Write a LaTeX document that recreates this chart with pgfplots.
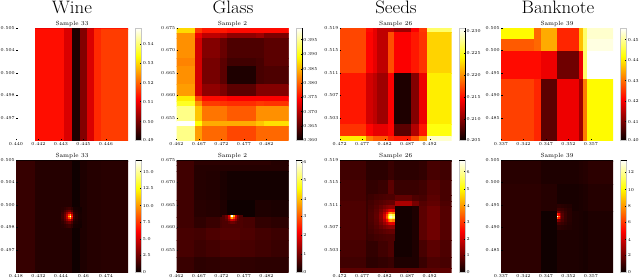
\documentclass[border=0pt]{standalone}
\usepackage{pgfplots}
\pgfplotsset{compat=1.18}
\tikzset{headt/.style={font=\fontsize{18}{18}\selectfont,anchor=base,inner sep=0pt,xscale=1.05,transform shape}}
\pgfplotsset{
 colormap={myhot}{rgb(0pt)=(0.04,0,0) rgb(365pt)=(1,0,0) rgb(746pt)=(1,1,0) rgb(1000pt)=(1,1,1)},
 hm/.style={scale only axis,width=112pt,height=112pt,xmin=0,xmax=112,ymin=0,ymax=112,y dir=reverse,
  enlargelimits=false,axis on top,axis line style={draw=none},
  xtick={0,22.5,45,67.5,90},ytick={0,22.5,45,67.5,90},
  tickpos=left,
  major tick length=1.5pt,tick style={black,line width=.3pt},
  tick label style={font=\fontsize{4.5}{5}\selectfont,inner sep=1pt},
  xticklabel style={yshift=-1.5pt},
  title style={font=\fontsize{6}{6}\selectfont,inner sep=0pt,yshift=-5pt},
  colormap name=myhot,point meta min=0,point meta max=1,
  colorbar,
  colorbar style={width=6pt,scale only axis,axis line style={draw=gray!45,line width=.3pt},
   xtick=\empty,tickpos=right,yticklabel pos=right,major tick length=1.5pt,
   tick style={black,line width=.3pt},
   tick label style={font=\fontsize{4.5}{5}\selectfont,inner sep=1pt}},
  colorbar shift/.style={xshift=7.6pt}},
 cell/.style={surf,shader=flat corner,mesh/cols=#1,point meta=\thisrow{c}}
}
\begin{document}
\begin{tikzpicture}[x=1pt,y=1pt]
\useasboundingbox (0,0) rectangle (640,279);
\node[headt] at (72,265.8) {Wine};
\node[headt] at (233,265.8) {Glass};
\node[headt] at (396,265.8) {Seeds};
\node[headt] at (558,265.8) {Banknote};
% ---- top row
\begin{axis}[hm,at={(16pt,139pt)},anchor=south west,title={Sample 33},
 xticklabels={0.440,0.442,0.443,0.445,0.446},yticklabels={0.505,0.504,0.500,0.498,0.497},
 colorbar style={ytick={0,.164,.343,.507,.687,.857},yticklabels={0.49,0.50,0.51,0.52,0.53,0.54}}]
\addplot[cell=9] table[row sep=\\] {x y c\\
0 0 1\\ 19 0 .34\\ 48 0 .28\\ 55.7 0 .03\\ 64 0 .15\\ 71 0 .28\\ 78.3 0 .38\\ 85 0 .40\\ 112 0 .40\\
0 1 1\\ 19 1 .385\\ 48 1 .31\\ 55.7 1 .03\\ 64 1 .18\\ 71 1 .31\\ 78.3 1 .425\\ 85 1 .455\\ 112 1 .455\\
0 112 1\\ 19 112 .385\\ 48 112 .31\\ 55.7 112 .03\\ 64 112 .18\\ 71 112 .31\\ 78.3 112 .425\\ 85 112 .455\\ 112 112 .455\\
};
\end{axis}
\begin{axis}[hm,at={(176.5pt,139pt)},anchor=south west,title={Sample 2},
 xticklabels={0.462,0.467,0.472,0.477,0.482},yticklabels={0.675,0.670,0.665,0.660,0.655},
 colorbar style={ytick={0,.125,.254,.382,.507,.636,.767,.896},yticklabels={0.360,0.365,0.370,0.375,0.380,0.385,0.390,0.395}}]
\addplot[cell=8] table[row sep=\\] {x y c\\
0 0 .69\\ 18.3 0 .45\\ 25.7 0 .40\\ 43.3 0 .40\\ 50.7 0 .38\\ 80 0 .38\\ 87.3 0 .38\\ 112 0 .38\\
0 5 .58\\ 18.3 5 .34\\ 25.7 5 .27\\ 43.3 5 .25\\ 50.7 5 .20\\ 80 5 .22\\ 87.3 5 .17\\ 112 5 .17\\
0 10 .58\\ 18.3 10 .30\\ 25.7 10 .18\\ 43.3 10 .14\\ 50.7 10 .10\\ 80 10 .10\\ 87.3 10 .12\\ 112 10 .12\\
0 30 .56\\ 18.3 30 .30\\ 25.7 30 .16\\ 43.3 30 .12\\ 50.7 30 .08\\ 80 30 .09\\ 87.3 30 .12\\ 112 30 .12\\
0 38.3 .58\\ 18.3 38.3 .30\\ 25.7 38.3 .16\\ 43.3 38.3 .12\\ 50.7 38.3 .03\\ 80 38.3 .09\\ 87.3 38.3 .10\\ 112 38.3 .10\\
0 55.7 .60\\ 18.3 55.7 .30\\ 25.7 55.7 .20\\ 43.3 55.7 .17\\ 50.7 55.7 .12\\ 80 55.7 .18\\ 87.3 55.7 .18\\ 112 55.7 .18\\
0 68.3 .72\\ 18.3 68.3 .47\\ 25.7 68.3 .38\\ 43.3 68.3 .38\\ 50.7 68.3 .36\\ 80 68.3 .36\\ 87.3 68.3 .36\\ 112 68.3 .36\\
0 72.7 .78\\ 18.3 72.7 .58\\ 25.7 72.7 .45\\ 43.3 72.7 .44\\ 50.7 72.7 .43\\ 80 72.7 .45\\ 87.3 72.7 .44\\ 112 72.7 .44\\
0 77.7 .88\\ 18.3 77.7 .66\\ 25.7 77.7 .54\\ 43.3 77.7 .54\\ 50.7 77.7 .50\\ 80 77.7 .58\\ 87.3 77.7 .58\\ 112 77.7 .58\\
0 93.3 1\\ 18.3 93.3 .75\\ 25.7 93.3 .62\\ 43.3 93.3 .62\\ 50.7 93.3 .62\\ 80 93.3 .66\\ 87.3 93.3 .70\\ 112 93.3 .70\\
0 97.7 .88\\ 18.3 97.7 .60\\ 25.7 97.7 .52\\ 43.3 97.7 .52\\ 50.7 97.7 .47\\ 80 97.7 .52\\ 87.3 97.7 .52\\ 112 97.7 .52\\
0 112 .88\\ 18.3 112 .60\\ 25.7 112 .52\\ 43.3 112 .52\\ 50.7 112 .47\\ 80 112 .52\\ 87.3 112 .52\\ 112 112 .52\\
};
\end{axis}
\begin{axis}[hm,at={(339.7pt,139pt)},anchor=south west,title={Sample 26},
 xticklabels={0.472,0.477,0.482,0.487,0.492},yticklabels={0.519,0.515,0.511,0.507,0.503},
 colorbar style={ytick={0,.185,.382,.576,.776,.97},yticklabels={0.205,0.210,0.215,0.220,0.225,0.230}}]
\addplot[cell=10] table[row sep=\\] {x y c\\
0 0 .47\\ 26.3 0 .38\\ 33.7 0 .33\\ 37.7 0 .27\\ 48.3 0 .27\\ 54 0 .22\\ 71.7 0 .36\\ 79.3 0 .45\\ 87 0 .85\\ 112 0 .85\\
0 4.3 .47\\ 26.3 4.3 .37\\ 33.7 4.3 .33\\ 37.7 4.3 .27\\ 48.3 4.3 .48\\ 54 4.3 .36\\ 71.7 4.3 .40\\ 79.3 4.3 .44\\ 87 4.3 .68\\ 112 4.3 .68\\
0 45 .40\\ 26.3 45 .30\\ 33.7 45 .27\\ 37.7 45 .22\\ 48.3 45 .36\\ 54 45 .03\\ 71.7 45 .18\\ 79.3 45 .34\\ 87 45 .72\\ 112 45 .72\\
0 95.7 .44\\ 26.3 95.7 .37\\ 33.7 95.7 .33\\ 37.7 95.7 .33\\ 48.3 95.7 .37\\ 54 95.7 .12\\ 71.7 95.7 .25\\ 79.3 95.7 .40\\ 87 95.7 .76\\ 112 95.7 .76\\
0 107.7 .72\\ 26.3 107.7 .55\\ 33.7 107.7 .50\\ 37.7 107.7 .50\\ 48.3 107.7 .42\\ 54 107.7 .40\\ 71.7 107.7 .48\\ 79.3 107.7 .60\\ 87 107.7 .95\\ 112 107.7 .95\\
0 112 .72\\ 26.3 112 .55\\ 33.7 112 .50\\ 37.7 112 .50\\ 48.3 112 .42\\ 54 112 .40\\ 71.7 112 .48\\ 79.3 112 .60\\ 87 112 .95\\ 112 112 .95\\
};
\end{axis}
\begin{axis}[hm,at={(501pt,139pt)},anchor=south west,title={Sample 39},
 xticklabels={0.337,0.342,0.347,0.352,0.357},yticklabels={0.505,0.500,0.495,0.490,0.485},
 colorbar style={ytick={0,.164,.349,.531,.71,.896},yticklabels={0.40,0.41,0.42,0.43,0.44,0.45}}]
\addplot[cell=8] table[row sep=\\] {x y c\\
0 0 .74\\ 33.3 0 .52\\ 39.7 0 .62\\ 56 0 .42\\ 77.7 0 .65\\ 81.7 0 .85\\ 86.3 0 .95\\ 112 0 .95\\
0 11 .50\\ 33.3 11 .52\\ 39.7 11 .62\\ 56 11 .42\\ 77.7 11 .65\\ 81.7 11 .85\\ 86.3 11 .97\\ 112 11 .97\\
0 23.3 .38\\ 33.3 23.3 .38\\ 39.7 23.3 .34\\ 56 23.3 .15\\ 77.7 23.3 .34\\ 81.7 23.3 .85\\ 86.3 23.3 1\\ 112 23.3 1\\
0 51 .46\\ 33.3 51 .42\\ 39.7 51 .12\\ 56 51 .34\\ 77.7 51 .22\\ 81.7 51 .55\\ 86.3 51 .74\\ 112 51 .74\\
0 112 .46\\ 33.3 112 .42\\ 39.7 112 .12\\ 56 112 .34\\ 77.7 112 .22\\ 81.7 112 .55\\ 86.3 112 .74\\ 112 112 .74\\
};
\end{axis}
% ---- bottom row
\begin{axis}[hm,at={(16pt,7pt)},anchor=south west,title={Sample 33},
 xticklabels={0.418,0.432,0.444,0.46,0.474},yticklabels={0.505,0.504,0.500,0.498,0.497},
 colorbar style={ytick={0,.148,.297,.445,.593,.748,.896},yticklabels={0,2.5,5.0,7.5,10.0,12.5,15.0}}]
\addplot[cell=7] table[row sep=\\] {x y c\\
0 0 .005\\ 19 0 .005\\ 56 0 .005\\ 64 0 .005\\ 71 0 .005\\ 85 0 .005\\ 112 0 .005\\
0 1.5 .065\\ 19 1.5 .04\\ 56 1.5 .008\\ 64 1.5 .03\\ 71 1.5 .04\\ 85 1.5 .045\\ 112 1.5 .045\\
0 112 .065\\ 19 112 .04\\ 56 112 .008\\ 64 112 .03\\ 71 112 .04\\ 85 112 .045\\ 112 112 .045\\
};
\addplot[cell=10] table[row sep=\\] {x y c\\
45 46.8 .045\\ 48 46.8 .055\\ 50.5 46.8 .07\\ 52.5 46.8 .08\\ 54.4 46.8 .08\\ 55.6 46.8 .056\\ 57.5 46.8 .021\\ 59.5 46.8 .017\\ 62 46.8 .014\\ 65 46.8 .014\\
45 49.8 .055\\ 48 49.8 .085\\ 50.5 49.8 .12\\ 52.5 49.8 .145\\ 54.4 49.8 .15\\ 55.6 49.8 .10\\ 57.5 49.8 .036\\ 59.5 49.8 .026\\ 62 49.8 .017\\ 65 49.8 .017\\
45 52.3 .07\\ 48 52.3 .12\\ 50.5 52.3 .20\\ 52.5 52.3 .27\\ 54.4 52.3 .30\\ 55.6 52.3 .19\\ 57.5 52.3 .06\\ 59.5 52.3 .036\\ 62 52.3 .021\\ 65 52.3 .021\\
45 54.3 .08\\ 48 54.3 .145\\ 50.5 54.3 .27\\ 52.5 54.3 .45\\ 54.4 54.3 .62\\ 55.6 54.3 .32\\ 57.5 54.3 .08\\ 59.5 54.3 .044\\ 62 54.3 .024\\ 65 54.3 .024\\
45 56.2 .08\\ 48 56.2 .15\\ 50.5 56.2 .30\\ 52.5 56.2 .62\\ 54.4 56.2 1\\ 55.6 56.2 .43\\ 57.5 56.2 .09\\ 59.5 56.2 .045\\ 62 56.2 .024\\ 65 56.2 .024\\
45 57.4 .08\\ 48 57.4 .145\\ 50.5 57.4 .27\\ 52.5 57.4 .45\\ 54.4 57.4 .62\\ 55.6 57.4 .32\\ 57.5 57.4 .08\\ 59.5 57.4 .044\\ 62 57.4 .024\\ 65 57.4 .024\\
45 59.3 .07\\ 48 59.3 .12\\ 50.5 59.3 .20\\ 52.5 59.3 .27\\ 54.4 59.3 .30\\ 55.6 59.3 .19\\ 57.5 59.3 .06\\ 59.5 59.3 .036\\ 62 59.3 .021\\ 65 59.3 .021\\
45 61.3 .055\\ 48 61.3 .085\\ 50.5 61.3 .12\\ 52.5 61.3 .145\\ 54.4 61.3 .15\\ 55.6 61.3 .10\\ 57.5 61.3 .036\\ 59.5 61.3 .026\\ 62 61.3 .017\\ 65 61.3 .017\\
45 63.8 .045\\ 48 63.8 .055\\ 50.5 63.8 .07\\ 52.5 63.8 .08\\ 54.4 63.8 .08\\ 55.6 63.8 .056\\ 57.5 63.8 .021\\ 59.5 63.8 .017\\ 62 63.8 .014\\ 65 63.8 .014\\
45 66.8 .045\\ 48 66.8 .055\\ 50.5 66.8 .07\\ 52.5 66.8 .08\\ 54.4 66.8 .08\\ 55.6 66.8 .056\\ 57.5 66.8 .021\\ 59.5 66.8 .017\\ 62 66.8 .014\\ 65 66.8 .014\\
};
\end{axis}
\begin{axis}[hm,at={(176.5pt,7pt)},anchor=south west,title={Sample 2},
 xticklabels={0.462,0.467,0.472,0.477,0.482},yticklabels={0.675,0.670,0.665,0.660,0.655},
 colorbar style={ytick={0,.163,.326,.496,.653,.825,.985},yticklabels={0,1,2,3,4,5,6}}]
\addplot[cell=9] table[row sep=\\] {x y c\\
0 0 .01\\ 18 0 .01\\ 30 0 .01\\ 44 0 .01\\ 51 0 .01\\ 64 0 .01\\ 79 0 .01\\ 95 0 .01\\ 112 0 .01\\
0 1 .08\\ 18 1 .05\\ 30 1 .05\\ 44 1 .05\\ 51 1 .05\\ 64 1 .05\\ 79 1 .05\\ 95 1 .04\\ 112 1 .04\\
0 5 .08\\ 18 5 .04\\ 30 5 .04\\ 44 5 .04\\ 51 5 .04\\ 64 5 .04\\ 79 5 .04\\ 95 5 .04\\ 112 5 .04\\
0 11 .08\\ 18 11 .04\\ 30 11 .035\\ 44 11 .025\\ 51 11 .015\\ 64 11 .015\\ 79 11 .015\\ 95 11 .015\\ 112 11 .015\\
0 40 .08\\ 18 40 .045\\ 30 40 .04\\ 44 40 .03\\ 51 40 .005\\ 64 40 .005\\ 79 40 .03\\ 95 40 .025\\ 112 40 .025\\
0 57 .08\\ 18 57 .055\\ 30 57 .07\\ 44 57 .09\\ 51 57 .10\\ 64 57 .09\\ 79 57 .06\\ 95 57 .05\\ 112 57 .05\\
0 68 .09\\ 18 68 .085\\ 30 68 .10\\ 44 68 .11\\ 51 68 .11\\ 64 68 .10\\ 79 68 .085\\ 95 68 .075\\ 112 68 .075\\
0 80 .09\\ 18 80 .075\\ 30 80 .085\\ 44 80 .095\\ 51 80 .095\\ 64 80 .09\\ 79 80 .08\\ 95 80 .07\\ 112 80 .07\\
0 97 .07\\ 18 97 .05\\ 30 97 .055\\ 44 97 .06\\ 51 97 .06\\ 64 97 .055\\ 79 97 .05\\ 95 97 .05\\ 112 97 .05\\
0 112 .07\\ 18 112 .05\\ 30 112 .055\\ 44 112 .06\\ 51 112 .06\\ 64 112 .055\\ 79 112 .05\\ 95 112 .05\\ 112 112 .05\\
};
\addplot[cell=10] table[row sep=\\] {x y c\\
45.7 55.5 .10\\ 48.7 55.5 .15\\ 51.2 55.5 .30\\ 53.2 55.5 .62\\ 55 55.5 1\\ 56.4 55.5 .62\\ 58.2 55.5 .30\\ 60.2 55.5 .15\\ 62.7 55.5 .10\\ 65.7 55.5 .10\\
45.7 57.2 .10\\ 48.7 57.2 .145\\ 51.2 57.2 .27\\ 53.2 57.2 .45\\ 55 57.2 .62\\ 56.4 57.2 .45\\ 58.2 57.2 .27\\ 60.2 57.2 .145\\ 62.7 57.2 .10\\ 65.7 57.2 .10\\
45.7 59.2 .10\\ 48.7 59.2 .12\\ 51.2 59.2 .20\\ 53.2 59.2 .27\\ 55 59.2 .30\\ 56.4 59.2 .27\\ 58.2 59.2 .20\\ 60.2 59.2 .12\\ 62.7 59.2 .10\\ 65.7 59.2 .10\\
45.7 61.2 .10\\ 48.7 61.2 .10\\ 51.2 61.2 .12\\ 53.2 61.2 .145\\ 55 61.2 .15\\ 56.4 61.2 .145\\ 58.2 61.2 .12\\ 60.2 61.2 .10\\ 62.7 61.2 .10\\ 65.7 61.2 .10\\
45.7 64 .10\\ 48.7 64 .10\\ 51.2 64 .10\\ 53.2 64 .10\\ 55 64 .10\\ 56.4 64 .10\\ 58.2 64 .10\\ 60.2 64 .10\\ 62.7 64 .10\\ 65.7 64 .10\\
45.7 67 .10\\ 48.7 67 .10\\ 51.2 67 .10\\ 53.2 67 .10\\ 55 67 .10\\ 56.4 67 .10\\ 58.2 67 .10\\ 60.2 67 .10\\ 62.7 67 .10\\ 65.7 67 .10\\
};
\end{axis}
\begin{axis}[hm,at={(339.7pt,7pt)},anchor=south west,title={Sample 26},
 xticklabels={0.472,0.477,0.482,0.487,0.492},yticklabels={0.519,0.515,0.511,0.507,0.503},
 colorbar style={ytick={0,.148,.297,.445,.593,.742,.896},yticklabels={0,1,2,3,4,5,6}}]
\addplot[cell=10] table[row sep=\\] {x y c\\
0 0 .01\\ 26 0 .01\\ 38 0 .01\\ 48 0 .01\\ 54 0 .01\\ 72 0 .01\\ 79 0 .01\\ 87 0 .01\\ 100 0 .01\\ 112 0 .01\\
0 1 .08\\ 26 1 .05\\ 38 1 .05\\ 48 1 .07\\ 54 1 .05\\ 72 1 .05\\ 79 1 .06\\ 87 1 .09\\ 100 1 .08\\ 112 1 .08\\
0 20 .09\\ 26 20 .06\\ 38 20 .07\\ 48 20 .12\\ 54 20 .07\\ 72 20 .07\\ 79 20 .08\\ 87 20 .11\\ 100 20 .09\\ 112 20 .09\\
0 35 .09\\ 26 35 .065\\ 38 35 .09\\ 48 35 .17\\ 54 35 .13\\ 72 35 .10\\ 79 35 .09\\ 87 35 .12\\ 100 35 .09\\ 112 35 .09\\
0 41 .10\\ 26 41 .07\\ 38 41 .11\\ 48 41 .22\\ 54 41 .24\\ 72 41 .16\\ 79 41 .11\\ 87 41 .13\\ 100 41 .10\\ 112 41 .10\\
0 46 .10\\ 26 46 .07\\ 38 46 .10\\ 48 46 .12\\ 54 46 .015\\ 72 46 .03\\ 79 46 .12\\ 87 46 .15\\ 100 46 .11\\ 112 46 .11\\
0 80 .09\\ 26 80 .06\\ 38 80 .08\\ 48 80 .10\\ 54 80 .015\\ 72 80 .03\\ 79 80 .09\\ 87 80 .12\\ 100 80 .10\\ 112 80 .10\\
0 97 .08\\ 26 97 .05\\ 38 97 .06\\ 48 97 .07\\ 54 97 .03\\ 72 97 .03\\ 79 97 .07\\ 87 97 .10\\ 100 97 .09\\ 112 97 .09\\
0 108 .12\\ 26 108 .12\\ 38 108 .12\\ 48 108 .12\\ 54 108 .12\\ 72 108 .12\\ 79 108 .12\\ 87 108 .12\\ 100 108 .12\\ 112 108 .12\\
0 112 .12\\ 26 112 .12\\ 38 112 .12\\ 48 112 .12\\ 54 112 .12\\ 72 112 .12\\ 79 112 .12\\ 87 112 .12\\ 100 112 .12\\ 112 112 .12\\
};
\addplot[cell=10] table[row sep=\\] {x y c\\
28 34 .075\\ 34 34 .085\\ 39 34 .09\\ 43 34 .095\\ 46 34 .10\\ 48 34 .10\\ 49.5 34 .10\\ 50.8 34 .10\\ 52.2 34 .10\\ 54 34 .10\\
28 40 .085\\ 34 40 .10\\ 39 40 .11\\ 43 40 .12\\ 46 40 .13\\ 48 40 .13\\ 49.5 40 .135\\ 50.8 40 .135\\ 52.2 40 .135\\ 54 40 .135\\
28 45 .09\\ 34 45 .11\\ 39 45 .135\\ 43 45 .16\\ 46 45 .18\\ 48 45 .19\\ 49.5 45 .195\\ 50.8 45 .20\\ 52.2 45 .195\\ 54 45 .195\\
28 49 .095\\ 34 49 .12\\ 39 49 .16\\ 43 49 .21\\ 46 49 .255\\ 48 49 .30\\ 49.5 49 .32\\ 50.8 49 .33\\ 52.2 49 .32\\ 54 49 .32\\
28 52 .10\\ 34 52 .125\\ 39 52 .18\\ 43 52 .255\\ 46 52 .37\\ 48 52 .49\\ 49.5 52 .56\\ 50.8 52 .60\\ 52.2 52 .55\\ 54 52 .55\\
28 54.5 .10\\ 34 54.5 .13\\ 39 54.5 .19\\ 43 54.5 .29\\ 46 54.5 .47\\ 48 54.5 .68\\ 49.5 54.5 .82\\ 50.8 54.5 .87\\ 52.2 54.5 .80\\ 54 54.5 .80\\
28 56.2 .10\\ 34 56.2 .13\\ 39 56.2 .19\\ 43 56.2 .30\\ 46 56.2 .50\\ 48 56.2 .74\\ 49.5 56.2 .90\\ 50.8 56.2 .96\\ 52.2 56.2 .87\\ 54 56.2 .87\\
28 57.8 .10\\ 34 57.8 .13\\ 39 57.8 .19\\ 43 57.8 .29\\ 46 57.8 .47\\ 48 57.8 .68\\ 49.5 57.8 .82\\ 50.8 57.8 .87\\ 52.2 57.8 .80\\ 54 57.8 .80\\
28 59.5 .10\\ 34 59.5 .125\\ 39 59.5 .18\\ 43 59.5 .255\\ 46 59.5 .37\\ 48 59.5 .49\\ 49.5 59.5 .56\\ 50.8 59.5 .60\\ 52.2 59.5 .55\\ 54 59.5 .55\\
28 62 .095\\ 34 62 .12\\ 39 62 .16\\ 43 62 .21\\ 46 62 .255\\ 48 62 .30\\ 49.5 62 .32\\ 50.8 62 .33\\ 52.2 62 .32\\ 54 62 .32\\
28 65 .09\\ 34 65 .11\\ 39 65 .135\\ 43 65 .16\\ 46 65 .18\\ 48 65 .19\\ 49.5 65 .195\\ 50.8 65 .20\\ 52.2 65 .195\\ 54 65 .195\\
28 69 .085\\ 34 69 .10\\ 39 69 .11\\ 43 69 .12\\ 46 69 .13\\ 48 69 .13\\ 49.5 69 .135\\ 50.8 69 .135\\ 52.2 69 .135\\ 54 69 .135\\
28 74 .075\\ 34 74 .085\\ 39 74 .09\\ 43 74 .095\\ 46 74 .10\\ 48 74 .10\\ 49.5 74 .10\\ 50.8 74 .10\\ 52.2 74 .10\\ 54 74 .10\\
28 80 .075\\ 34 80 .085\\ 39 80 .09\\ 43 80 .095\\ 46 80 .10\\ 48 80 .10\\ 49.5 80 .10\\ 50.8 80 .10\\ 52.2 80 .10\\ 54 80 .10\\
};
\end{axis}
\begin{axis}[hm,at={(501pt,7pt)},anchor=south west,title={Sample 39},
 xticklabels={0.337,0.342,0.347,0.352,0.357},yticklabels={0.505,0.500,0.495,0.490,0.485},
 colorbar style={ytick={0,.148,.29,.445,.588,.736,.89},yticklabels={0,2,4,6,8,10,12}}]
\addplot[cell=7] table[row sep=\\] {x y c\\
0 0 .005\\ 40 0 .005\\ 56 0 .005\\ 78 0 .005\\ 82 0 .005\\ 87 0 .005\\ 112 0 .005\\
0 1 .045\\ 40 1 .03\\ 56 1 .03\\ 78 1 .035\\ 82 1 .04\\ 87 1 .05\\ 112 1 .05\\
0 24 .05\\ 40 24 .04\\ 56 24 .02\\ 78 24 .025\\ 82 24 .03\\ 87 24 .04\\ 112 24 .04\\
0 51 .05\\ 40 51 .008\\ 56 51 .03\\ 78 51 .025\\ 82 51 .02\\ 87 51 .03\\ 112 51 .03\\
0 112 .05\\ 40 112 .008\\ 56 112 .03\\ 78 112 .025\\ 82 112 .02\\ 87 112 .03\\ 112 112 .03\\
};
\addplot[cell=7] table[row sep=\\] {x y c\\
55.7 44 .05\\ 57.2 44 .05\\ 58.7 44 .05\\ 60.5 44 .045\\ 63 44 .04\\ 66 44 .035\\ 70 44 .035\\
55.7 48 .08\\ 57.2 48 .08\\ 58.7 48 .075\\ 60.5 48 .07\\ 63 48 .055\\ 66 48 .045\\ 70 48 .045\\
55.7 51 .17\\ 57.2 51 .15\\ 58.7 51 .12\\ 60.5 51 .09\\ 63 51 .065\\ 66 51 .045\\ 70 51 .045\\
55.7 53.5 .42\\ 57.2 53.5 .33\\ 58.7 53.5 .20\\ 60.5 53.5 .11\\ 63 53.5 .07\\ 66 53.5 .045\\ 70 53.5 .045\\
55.7 56 1\\ 57.2 56 .55\\ 58.7 56 .26\\ 60.5 56 .12\\ 63 56 .07\\ 66 56 .045\\ 70 56 .045\\
55.7 57.4 .50\\ 57.2 57.4 .38\\ 58.7 57.4 .22\\ 60.5 57.4 .11\\ 63 57.4 .07\\ 66 57.4 .045\\ 70 57.4 .045\\
55.7 59.5 .20\\ 57.2 59.5 .17\\ 58.7 59.5 .13\\ 60.5 59.5 .095\\ 63 59.5 .065\\ 66 59.5 .045\\ 70 59.5 .045\\
55.7 62 .09\\ 57.2 62 .085\\ 58.7 62 .08\\ 60.5 62 .07\\ 63 62 .055\\ 66 62 .04\\ 70 62 .04\\
55.7 65 .05\\ 57.2 65 .05\\ 58.7 65 .05\\ 60.5 65 .045\\ 63 65 .04\\ 66 65 .035\\ 70 65 .035\\
55.7 69 .05\\ 57.2 69 .05\\ 58.7 69 .05\\ 60.5 69 .045\\ 63 69 .04\\ 66 69 .035\\ 70 69 .035\\
};
\end{axis}
% colour-bar edges
\draw[black,line width=.5pt] (302,139)--(302,251);
\draw[black,line width=.5pt] (465.4,139)--(465.4,251);
\draw[black,line width=.6pt] (135.6,119)--(141.6,119);
\draw[black,line width=.6pt] (296.1,119)--(302.1,119);
\draw[black,line width=.6pt] (459.3,119)--(465.3,119);
\draw[black,line width=.6pt] (620.6,119)--(626.6,119);
\end{tikzpicture}
\end{document}
